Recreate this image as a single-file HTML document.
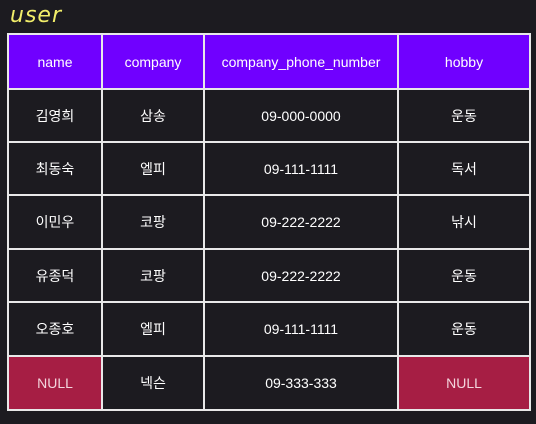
<!DOCTYPE html>
<html><head><meta charset="utf-8"><style>
body{margin:0;width:536px;height:424px;background:#1c1b20;overflow:hidden;font-family:"Liberation Sans","Noto Sans CJK KR",sans-serif;}
.t{position:absolute;left:10px;top:3px;color:#f2ee6a;font-size:22px;font-style:italic;font-family:"DejaVu Sans",sans-serif;letter-spacing:1px}
.c{position:absolute;box-sizing:border-box;display:flex;align-items:center;justify-content:center;color:#fff;font-size:14px;background:#1c1b20}
.h{background:#7000ff}
.n{background:#a61e44;color:#f3d4dc}
.grid{position:absolute;background:#e8e8e8}
</style></head><body>
<div class="t">user</div>
<div id="tbl"></div>
<script>
const cols=[7,101,203,397,529];
const rows=[33,88,141,194,248,301,355,409];
const header=["name","company","company_phone_number","hobby"];
const data=[["김영희","삼송","09-000-0000","운동"],["최동숙","엘피","09-111-1111","독서"],["이민우","코팡","09-222-2222","낚시"],["유종덕","코팡","09-222-2222","운동"],["오종호","엘피","09-111-1111","운동"],["NULL","넥슨","09-333-333","NULL"]];
const tbl=document.getElementById('tbl');
const all=[header].concat(data);
all.forEach((r,i)=>r.forEach((v,j)=>{
 const d=document.createElement('div');
 d.className='c'+(i===0?' h':(v==='NULL'?' n':''));
 d.style.left=(cols[j]+2)+'px';d.style.top=(rows[i]+2)+'px';
 d.style.width=(cols[j+1]-cols[j]-2)+'px';d.style.height=(rows[i+1]-rows[i]-2)+'px';
 d.textContent=v;
 
 
 tbl.appendChild(d);
}));
cols.forEach(x=>{const g=document.createElement('div');g.className='grid';g.style.left=x+'px';g.style.top=rows[0]+'px';g.style.width='2px';g.style.height=(rows[rows.length-1]-rows[0]+2)+'px';


tbl.appendChild(g);});
rows.forEach(y=>{const g=document.createElement('div');g.className='grid';g.style.left=cols[0]+'px';g.style.top=y+'px';g.style.height='2px';g.style.width=(cols[cols.length-1]-cols[0]+2)+'px';


tbl.appendChild(g);});
</script>
</body></html>
